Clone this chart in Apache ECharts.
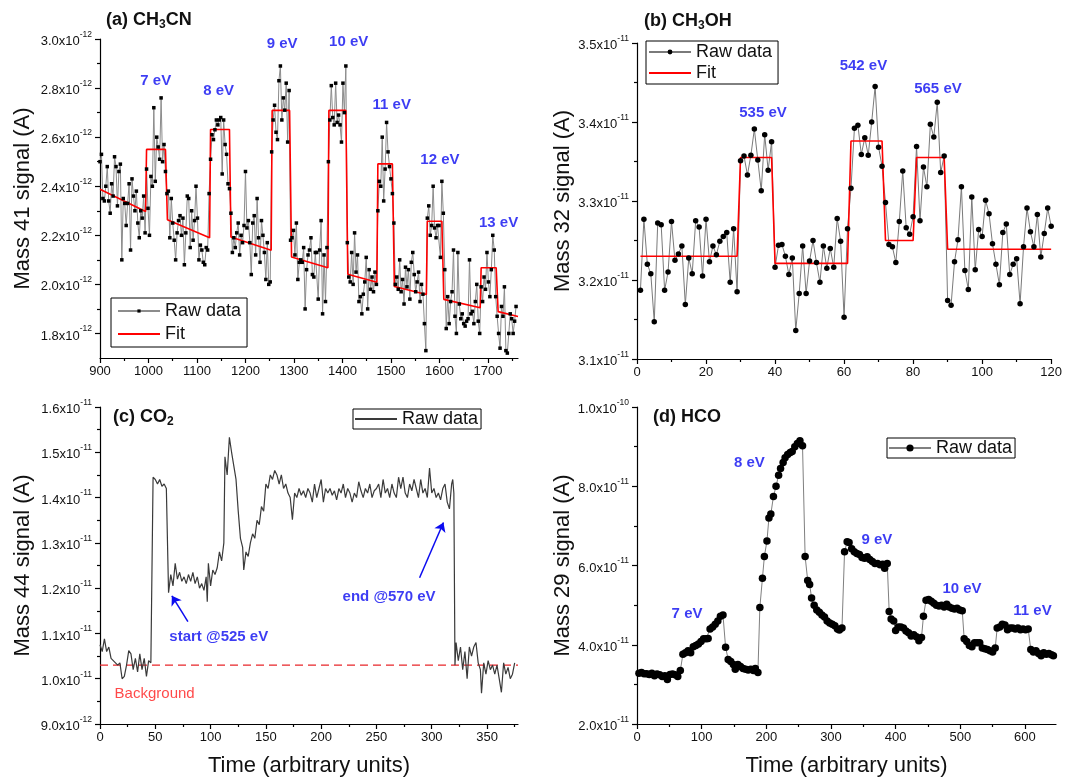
<!DOCTYPE html>
<html>
<head>
<meta charset="utf-8">
<script src="https://cdn.jsdelivr.net/npm/echarts@6/dist/echarts.min.js"></script>
<style>
  html, body { margin: 0; padding: 0; background: #ffffff; }
  #chart { width: 1065px; height: 778px; }
</style>
</head>
<body>
<div id="chart"></div>
<script>
const FONT = "'Liberation Sans', Arial, Helvetica, sans-serif";
const BLUE = '#0b0bf0';
const INK = '#111111';

// ---------- (a) CH3CN, mass 41 (values in 1e-12 A) ----------
const timeA0 = 900, timeAStep = 3;
const rawA = [
  // baseline before 7 eV
  2.50, 2.53, 2.35, 2.34, 2.40, 2.48, 2.34, 2.29, 2.41, 2.36, 2.52, 2.48, 2.32, 2.46, 2.49, 2.10,
  2.35, 2.33, 2.24, 2.33, 2.41, 2.14, 2.43, 2.36, 2.30, 2.38, 2.25, 2.19, 2.30, 2.27, 2.36, 2.21,
  // 7 eV
  2.47, 2.31, 2.20, 2.44, 2.40, 2.72, 2.42, 2.60, 2.56, 2.51, 2.76, 2.50, 2.57, 2.46,
  2.37, 2.38, 2.19, 2.35, 2.25, 2.18, 2.10, 2.21, 2.26, 2.28, 2.20, 2.27, 2.08, 2.21, 2.36,
  2.35, 2.15, 2.30, 2.18, 2.26, 2.40, 2.27, 2.10, 2.16, 2.14, 2.09, 2.08, 2.15, 2.14, 2.37,
  // 8 eV
  2.51, 2.61, 2.59, 2.63, 2.67, 2.65, 2.67, 2.68, 2.45, 2.67, 2.57, 2.53, 2.41, 2.39,
  2.29, 2.13, 2.19, 2.15, 2.21, 2.25, 2.12, 2.20, 2.17, 2.24, 2.46, 2.23, 2.26, 2.17,
  2.04, 2.25, 2.28, 2.12, 2.35, 2.19, 2.09, 2.26, 2.20, 2.13, 2.02, 2.17, 2.00, 2.01,
  // 9 eV
  2.54, 2.67, 2.73, 2.62, 2.59, 2.83, 2.89, 2.67, 2.76, 2.71, 2.82, 2.58, 2.79,
  2.18, 2.19, 2.22, 2.12, 2.25, 2.02, 2.09, 2.10, 2.09, 2.15, 1.90, 2.06, 2.12,
  2.14, 2.19, 2.04, 2.03, 2.13, 2.13, 1.94, 2.14, 2.26, 1.88, 2.12, 1.93, 2.15,
  // 10 eV
  2.50, 2.67, 2.81, 2.68, 2.65, 2.82, 2.66, 2.69, 2.65, 2.58, 2.82, 2.70, 2.89,
  2.17, 2.03, 2.01, 2.13, 2.00, 2.21, 2.05, 2.12, 1.93, 1.95, 1.88, 1.96, 2.01, 2.11,
  1.90, 2.06, 1.98, 2.03, 1.97, 2.05, 2.00,
  // 11 eV
  2.30, 2.42, 2.40, 2.60, 2.34, 2.47, 2.66, 2.54, 2.48, 2.43, 2.37,
  2.25, 2.00, 2.03, 1.98, 2.10, 1.97, 2.02, 1.92, 2.07, 1.99, 2.06, 1.94,
  2.09, 2.13, 2.04, 1.97, 2.01, 2.05, 1.93, 2.00, 1.96, 1.84, 1.73,
  // 12 eV
  2.27, 2.32, 2.20, 2.24, 2.40, 2.23, 2.19, 2.24, 2.24, 2.11, 2.42,
  2.29, 2.06, 1.82, 1.95, 1.84, 1.93, 1.97, 2.14, 1.87, 1.80, 2.13, 1.92, 1.86,
  1.88, 1.84, 1.83, 1.85, 1.86, 2.10, 1.88, 1.89, 1.84, 1.93, 2.00, 1.85, 1.80,
  // 13 eV
  1.99, 1.93, 2.03, 1.98, 2.13, 2.01, 1.95, 2.06, 2.20, 2.14, 1.95,
  1.87, 1.80, 1.74, 1.91, 1.87, 1.99, 1.73, 1.72, 1.80, 1.88, 1.86, 1.80, 1.85, 1.91
];
const fitTimeA = [900, 994, 996, 1035, 1039, 1126, 1128, 1167, 1170, 1253, 1255, 1291, 1295, 1370, 1372,
                  1407, 1411, 1471, 1473, 1503, 1507, 1573, 1575, 1605, 1609, 1684, 1686, 1717, 1721, 1762];
const fitA = [2.388, 2.297, 2.55, 2.55, 2.263, 2.19, 2.631, 2.631, 2.193, 2.139, 2.709, 2.709, 2.112, 2.068, 2.709,
              2.709, 2.041, 2.009, 2.491, 2.491, 1.991, 1.959, 2.257, 2.257, 1.939, 1.905, 2.068, 2.068, 1.889, 1.869];
const energyLabelsA = [['7 eV', 1015, 2.831], ['8 eV', 1144.5, 2.788], ['9 eV', 1275.5, 2.98], ['10 eV', 1412.8, 2.99],
                       ['11 eV', 1501.7, 2.731], ['12 eV', 1601, 2.507], ['13 eV', 1722, 2.25]];
const xTicksA = [900, 1000, 1100, 1200, 1300, 1400, 1500, 1600, 1700];
const xMinorA = [950, 1050, 1150, 1250, 1350, 1450, 1550, 1650, 1750];
const yTicksA = [1.8, 2.0, 2.2, 2.4, 2.6, 2.8, 3.0];
const yMinorA = [1.9, 2.1, 2.3, 2.5, 2.7, 2.9];

// ---------- (b) CH3OH, mass 32 (values in 1e-11 A) ----------
const rawB = [
  3.187, 3.277, 3.220, 3.208, 3.147, 3.272, 3.270, 3.187, 3.210, 3.274,
  3.225, 3.233, 3.243, 3.169, 3.228, 3.208, 3.275, 3.267, 3.205, 3.277,
  3.223, 3.243, 3.232, 3.249, 3.255, 3.260, 3.197, 3.265, 3.185, 3.351,
  3.357, 3.333, 3.358, 3.391, 3.352, 3.313, 3.384, 3.339, 3.375, 3.216,
  3.244, 3.245, 3.230, 3.207, 3.228, 3.136, 3.183, 3.243, 3.183, 3.224,
  3.250, 3.222, 3.197, 3.243, 3.215, 3.240, 3.216, 3.278, 3.249, 3.153,
  3.265, 3.316, 3.392, 3.396, 3.359, 3.380, 3.358, 3.400, 3.445, 3.368,
  3.344, 3.298, 3.245, 3.242, 3.222, 3.274, 3.338, 3.266, 3.258, 3.280,
  3.369, 3.275, 3.343, 3.318, 3.397, 3.381, 3.425, 3.336, 3.357, 3.174,
  3.168, 3.223, 3.251, 3.318, 3.212, 3.188, 3.305, 3.213, 3.264, 3.255,
  3.301, 3.284, 3.246, 3.220, 3.194, 3.260, 3.271, 3.207, 3.220, 3.227,
  3.170, 3.242, 3.291, 3.261, 3.242, 3.283, 3.229, 3.259, 3.291, 3.268
];
const fitTimeB = [1, 29, 30, 39, 40, 61, 62, 71, 72, 80, 81, 89, 90, 120];
const fitB = [3.23, 3.23, 3.355, 3.355, 3.221, 3.221, 3.376, 3.376, 3.25, 3.25, 3.355, 3.355, 3.239, 3.239];
const energyLabelsB = [['535 eV', 36.5, 3.411], ['542 eV', 65.6, 3.471], ['565 eV', 87.2, 3.442]];
const xTicksB = [0, 20, 40, 60, 80, 100, 120];
const xMinorB = [10, 30, 50, 70, 90, 110];
const yTicksB = [3.1, 3.2, 3.3, 3.4, 3.5];
const yMinorB = [3.15, 3.25, 3.35, 3.45];

// ---------- (c) CO2, mass 44 (values in 1e-11 A) ----------
const rawC = [
  [0,1.075],[2,1.06],[4,1.088],[6,1.06],[8,1.07],[10,1.045],[12,1.04],[14,1.035],[16,1.03],[18,1.035],
  [20,1.0],[22,1.005],[24,1.03],[26,1.062],[28,1.055],[30,1.02],[32,1.045],[34,1.015],[36,1.055],[38,1.02],
  [40,1.045],[42,1.005],[44,1.04],[46,1.035],
  [48,1.445],[50,1.44],[52,1.43],[54,1.44],[56,1.425],[58,1.43],[60,1.42],
  [62,1.19],[64,1.23],[66,1.205],[68,1.255],[70,1.22],[72,1.235],[74,1.215],[76,1.225],[78,1.21],[80,1.23],
  [82,1.215],[84,1.235],[86,1.21],[88,1.225],[90,1.2],[92,1.21],[94,1.195],[96,1.225],[97,1.17],[98,1.255],
  [100,1.205],[102,1.24],[104,1.23],[106,1.245],[108,1.28],[110,1.26],[112,1.3],
  [113,1.49],[115,1.45],[117,1.533],[119,1.5],[121,1.47],[123,1.44],[125,1.37],[127,1.31],[129,1.29],[130,1.24],
  [132,1.28],[134,1.27],[136,1.3],[138,1.32],[140,1.31],[142,1.35],[144,1.34],[146,1.38],[148,1.37],[150,1.43],
  [152,1.42],[154,1.45],[156,1.44],[158,1.46],[160,1.45],[162,1.43],[164,1.45],[166,1.42],[168,1.43],[170,1.41],
  [172,1.4],[174,1.351],[176,1.41],[178,1.4],[180,1.42],[182,1.405],[184,1.415],[186,1.4],[188,1.42],[190,1.41],
  [192,1.39],[194,1.43],[196,1.4],[198,1.42],[200,1.44],[202,1.39],[204,1.42],[206,1.41],[208,1.42],[210,1.405],
  [212,1.415],[214,1.395],[216,1.42],[218,1.41],[220,1.43],[222,1.4],[224,1.42],[226,1.41],[228,1.39],[230,1.41],
  [232,1.4],[234,1.435],[236,1.415],[238,1.4],[240,1.42],[242,1.41],[244,1.43],[246,1.4],[248,1.415],[250,1.42],
  [252,1.43],[254,1.4],[256,1.44],[258,1.41],[260,1.42],[262,1.4],[264,1.43],[266,1.41],[268,1.4],[270,1.445],
  [272,1.42],[274,1.445],[276,1.41],[278,1.4],[280,1.43],[282,1.415],[284,1.44],[286,1.42],[288,1.4],[290,1.44],
  [292,1.41],[294,1.42],[296,1.4],[298,1.465],[300,1.41],[302,1.42],[304,1.4],[306,1.41],[308,1.395],[310,1.42],
  [312,1.43],[314,1.39],[316,1.375],[318,1.43],[319,1.44],[320,1.41],
  [321,1.03],[322,1.08],[324,1.04],[326,1.07],[328,1.02],[330,1.06],[332,1.0],[334,1.07],[336,1.05],[338,1.07],
  [340,1.08],[342,1.035],[344,1.02],[345,0.968],[347,1.035],[349,1.01],[351,1.04],[353,1.02],[355,1.03],[357,1.01],
  [359,1.03],[361,1.0],[363,0.97],[365,1.035],[367,1.01],[369,1.025],[371,1.0],[373,1.01],[375,1.035]
];
const backgroundC = [[0, 1.03], [378, 1.03]];
const notesC = [['start @525 eV', 107.4, 1.092], ['end @570 eV', 261.4, 1.181]];
const arrowsC = [[[79.5, 1.126], [65, 1.183]], [[289, 1.223], [310.6, 1.345]]];
const backgroundLabelC = ['Background', 49.4, 0.966];
const xTicksC = [0, 50, 100, 150, 200, 250, 300, 350];
const xMinorC = [25, 75, 125, 175, 225, 275, 325, 375];
const yTicksC = [0.9, 1.0, 1.1, 1.2, 1.3, 1.4, 1.5, 1.6];
const yMinorC = [0.95, 1.05, 1.15, 1.25, 1.35, 1.45, 1.55];

// ---------- (d) HCO, mass 29 (values in 1e-11 A) ----------
const rawD = [
  [3,3.28],[7,3.30],[11,3.27],[15,3.27],[19,3.25],[23,3.28],[27,3.22],[31,3.26],[35,3.24],[39,3.20],
  [43,3.22],[47,3.12],[51,3.25],[55,3.26],[59,3.24],[63,3.20],[67,3.35],
  [71,3.76],[75,3.80],[79,3.85],[83,3.80],[87,3.95],[91,3.98],[95,4.02],[99,4.08],[103,4.15],[107,4.15],
  [110,4.16],[113,4.40],[117,4.45],[121,4.52],[125,4.60],[129,4.72],[133,4.75],
  [137,3.94],[141,3.63],[145,3.58],[149,3.50],[152,3.38],[156,3.50],[160,3.45],[164,3.40],[168,3.38],[172,3.36],
  [176,3.38],[180,3.35],[183,3.40],[187,3.30],
  [190,4.94],[194,5.68],[197,6.23],[201,6.62],[204,7.20],[207,7.30],[211,7.74],[215,8.00],[219,8.28],[222,8.45],
  [226,8.60],[229,8.72],[233,8.80],[237,8.85],[240,8.88],[244,9.00],[248,9.08],[252,9.15],[256,9.02],
  [260,6.23],[264,5.62],[267,5.52],[270,5.18],[274,5.00],[278,4.88],[282,4.82],[286,4.75],[290,4.70],[294,4.60],
  [298,4.55],[302,4.52],[306,4.48],[310,4.40],[313,4.37],[317,4.42],
  [321,6.35],[325,6.60],[328,6.58],[332,6.42],[336,6.35],[340,6.30],[344,6.28],[348,6.20],[352,6.18],[356,6.22],
  [360,6.15],[364,6.10],[368,6.05],[372,6.05],[376,6.02],[380,6.03],[383,5.93],[387,6.05],
  [390,4.84],[393,4.65],[397,4.60],[400,4.36],[404,4.45],[408,4.45],[412,4.42],[416,4.35],[420,4.30],[424,4.22],
  [428,4.25],[432,4.20],[436,4.10],[440,4.18],
  [443,4.72],[447,5.12],[451,5.14],[455,5.10],[459,5.05],[463,5.00],[467,4.98],[471,5.00],[475,4.95],[479,5.02],
  [483,4.95],[487,4.92],[491,4.90],[495,4.92],[499,4.88],[503,4.86],
  [506,4.15],[510,4.08],[514,3.98],[518,3.95],[522,4.05],[526,4.05],[530,4.05],[534,3.92],[538,3.90],[542,3.88],
  [546,3.85],[550,3.82],[554,3.92],
  [557,4.42],[561,4.45],[565,4.52],[569,4.50],[573,4.38],[577,4.42],[581,4.42],[585,4.40],[589,4.42],[593,4.38],
  [597,4.40],[601,4.38],[605,4.40],
  [609,3.88],[613,3.82],[617,3.85],[621,3.78],[625,3.72],[629,3.80],[633,3.76],[637,3.78],[641,3.75],[644,3.72]
];
const energyLabelsD = [['7 eV', 77.4, 4.775], ['8 eV', 173.7, 8.59], ['9 eV', 371, 6.65], ['10 eV', 502.6, 5.42], ['11 eV', 611.6, 4.86]];
const xTicksD = [0, 100, 200, 300, 400, 500, 600];
const xMinorD = [50, 150, 250, 350, 450, 550];
const yTicksD = [2, 4, 6, 8, 10];
const yMinorD = [3, 5, 7, 9];

const LEGEND_TEXT = { rawA: 'Raw data', fitA: 'Fit', rawB: 'Raw data', fitB: 'Fit', rawC: 'Raw data', rawD: 'Raw data' };

// ---------- helpers ----------
// "3.0x10^-12" style label for a value stored in units of 10^baseExp
function sciFormatter(baseExp) {
  return function (v) {
    let e = Math.floor(Math.log10(v) + 1e-9);
    let m = Math.round(v / Math.pow(10, e) * 10) / 10;
    if (m >= 10) { m = m / 10; e += 1; }
    return '{m|' + m.toFixed(1) + 'x10}{e|' + (e + baseExp) + '}';
  };
}
const SCI_RICH = {
  m: { fontFamily: FONT, fontSize: 13, color: INK, lineHeight: 18, verticalAlign: 'bottom' },
  e: { fontFamily: FONT, fontSize: 8.5, color: INK, lineHeight: 10, verticalAlign: 'top' }
};
const plainNumber = function (v) { return String(v); };

function axisPair(dim, grid, min, max, majors, minors, opts) {
  const base = {
    type: 'value', gridIndex: grid, min: min, max: max,
    position: dim === 'x' ? 'bottom' : 'left',
    splitLine: { show: false }
  };
  const major = Object.assign({}, base, {
    axisLine: { show: true, onZero: false, lineStyle: { color: '#000', width: 1.2 } },
    axisTick: { show: true, customValues: majors, length: 5, lineStyle: { color: '#000', width: 1.2 } },
    axisLabel: Object.assign({
      customValues: majors, fontFamily: FONT, fontSize: 13, color: INK,
      margin: dim === 'x' ? 7 : 8, formatter: plainNumber
    }, opts.label || {})
  });
  if (opts.name) {
    Object.assign(major, {
      name: opts.name, nameLocation: 'middle', nameGap: opts.nameGap,
      nameTextStyle: { fontFamily: FONT, fontSize: 22, color: INK }
    });
  }
  const minor = Object.assign({}, base, {
    axisLine: { show: false, onZero: false },
    axisTick: { show: true, customValues: minors, length: 3, lineStyle: { color: '#000', width: 1.2 } },
    axisLabel: { show: false }
  });
  return [major, minor];
}

function textSeries(grid, items, style) {
  return {
    type: 'scatter', xAxisIndex: grid * 2, yAxisIndex: grid * 2, silent: true, z: 10,
    symbolSize: 1, itemStyle: { color: 'rgba(0,0,0,0)' }, clip: false,
    data: items.map(function (it) { return { name: it[0], value: [it[1], it[2]] }; }),
    label: Object.assign({ show: true, position: 'inside', formatter: '{b}', fontFamily: FONT }, style)
  };
}
const ENERGY_STYLE = { color: BLUE, fontWeight: 'bold', fontSize: 15 };

// legend entries: a series drawn without markers gets a line-only key
function legendItem(name, withMarker) {
  return withMarker ? { name: name } : { name: name, itemStyle: { opacity: 0 } };
}
function legendBox(items, left, top, itemHeight, padding, itemGap) {
  return {
    data: items, orient: 'vertical', left: left, top: top, selectedMode: false,
    itemWidth: 42, itemHeight: itemHeight, itemGap: itemGap, padding: padding,
    borderColor: '#000', borderWidth: 1, backgroundColor: '#fff',
    textStyle: { fontFamily: FONT, fontSize: 18, color: INK },
    formatter: function (n) { return LEGEND_TEXT[n]; }
  };
}

const TITLE_RICH = {
  b: { fontFamily: FONT, fontWeight: 'bold', fontSize: 18, color: INK, lineHeight: 22 },
  s: { fontFamily: FONT, fontWeight: 'bold', fontSize: 12, color: INK, lineHeight: 12, verticalAlign: 'bottom' }
};

// ---------- assemble ----------
const xAxes = [].concat(
  axisPair('x', 0, 900, 1762, xTicksA, xMinorA, {}),
  axisPair('x', 1, 0, 120, xTicksB, xMinorB, {}),
  axisPair('x', 2, 0, 378, xTicksC, xMinorC, { name: 'Time (arbitrary units)', nameGap: 31 }),
  axisPair('x', 3, 0, 648, xTicksD, xMinorD, { name: 'Time (arbitrary units)', nameGap: 31 })
);
const yAxes = [].concat(
  axisPair('y', 0, 1.7, 3.0, yTicksA, yMinorA, { name: 'Mass 41 signal (A)', nameGap: 66, label: { formatter: sciFormatter(-12), rich: SCI_RICH } }),
  axisPair('y', 1, 3.1, 3.5, yTicksB, yMinorB, { name: 'Mass 32 signal (A)', nameGap: 63, label: { formatter: sciFormatter(-11), rich: SCI_RICH } }),
  axisPair('y', 2, 0.9, 1.6, yTicksC, yMinorC, { name: 'Mass 44 signal (A)', nameGap: 66, label: { formatter: sciFormatter(-11), rich: SCI_RICH } }),
  axisPair('y', 3, 2, 10, yTicksD, yMinorD, { name: 'Mass 29 signal (A)', nameGap: 63, label: { formatter: sciFormatter(-11), rich: SCI_RICH } })
);

const series = [
  {
    name: 'rawA', type: 'line', xAxisIndex: 0, yAxisIndex: 0,
    data: rawA.map(function (v, i) { return [timeA0 + i * timeAStep, v]; }),
    symbol: 'rect', symbolSize: 3.5, showAllSymbol: true,
    itemStyle: { color: '#000' }, lineStyle: { color: '#8c8c8c', width: 1 }
  },
  {
    name: 'fitA', type: 'line', xAxisIndex: 0, yAxisIndex: 0,
    data: fitTimeA.map(function (t, i) { return [t, fitA[i]]; }),
    symbol: 'none', itemStyle: { color: '#ff0000' }, lineStyle: { color: '#ff0000', width: 1.6 }
  },
  textSeries(0, energyLabelsA, ENERGY_STYLE),

  {
    name: 'rawB', type: 'line', xAxisIndex: 2, yAxisIndex: 2,
    data: rawB.map(function (v, i) { return [i + 1, v]; }),
    symbol: 'circle', symbolSize: 5.5, showAllSymbol: true,
    itemStyle: { color: '#000' }, lineStyle: { color: '#7a7a7a', width: 1 }
  },
  {
    name: 'fitB', type: 'line', xAxisIndex: 2, yAxisIndex: 2,
    data: fitTimeB.map(function (t, i) { return [t, fitB[i]]; }),
    symbol: 'none', itemStyle: { color: '#ff0000' }, lineStyle: { color: '#ff0000', width: 1.6 }
  },
  textSeries(1, energyLabelsB, ENERGY_STYLE),

  {
    name: 'backgroundC', type: 'line', xAxisIndex: 4, yAxisIndex: 4, data: backgroundC,
    symbol: 'none', silent: true, lineStyle: { color: '#e8262a', width: 1.4, type: [8, 5] }
  },
  {
    name: 'rawC', type: 'line', xAxisIndex: 4, yAxisIndex: 4, data: rawC,
    symbol: 'none', itemStyle: { color: '#3a3a3a' }, lineStyle: { color: '#3a3a3a', width: 1.2 },
    markLine: {
      silent: true, symbol: ['none', 'arrow'], symbolSize: 9, label: { show: false },
      lineStyle: { color: BLUE, width: 1.5, type: 'solid' },
      data: arrowsC.map(function (a) { return [{ coord: a[0] }, { coord: a[1] }]; })
    }
  },
  textSeries(2, notesC, ENERGY_STYLE),
  textSeries(2, [backgroundLabelC], { color: '#ff1a1a', fontSize: 15 }),

  {
    name: 'rawD', type: 'line', xAxisIndex: 6, yAxisIndex: 6, data: rawD,
    symbol: 'circle', symbolSize: 7.5, showAllSymbol: true,
    itemStyle: { color: '#000' }, lineStyle: { color: '#808080', width: 1 }
  },
  textSeries(3, energyLabelsD, ENERGY_STYLE)
];

const option = {
  animation: false,
  backgroundColor: '#ffffff',
  title: [
    { text: '{b|(a) CH}{s|3}{b|CN}', left: 106, top: 9, padding: 0, textStyle: { rich: TITLE_RICH } },
    { text: '{b|(b) CH}{s|3}{b|OH}', left: 644, top: 10, padding: 0, textStyle: { rich: TITLE_RICH } },
    { text: '{b|(c) CO}{s|2}', left: 113, top: 406, padding: 0, textStyle: { rich: TITLE_RICH } },
    { text: '{b|(d) HCO}', left: 653, top: 406, padding: 0, textStyle: { rich: TITLE_RICH } }
  ],
  legend: [
    legendBox([legendItem('rawA', true), legendItem('fitA', false)], 111, 298, 4, [4, 6, 4, 6], 5),
    legendBox([legendItem('rawB', true), legendItem('fitB', false)], 646, 41, 6, [2, 6, 2, 2], 3),
    legendBox([legendItem('rawC', false)], 353, 409, 4, [1, 3, 1, 1], 2),
    legendBox([legendItem('rawD', true)], 887, 438, 9, [1, 3, 1, 1], 2)
  ],
  grid: [
    { left: 100, top: 39, width: 418, height: 319 },
    { left: 637, top: 43, width: 419, height: 316 },
    { left: 100, top: 407, width: 418, height: 317 },
    { left: 637, top: 407, width: 419, height: 318 }
  ],
  xAxis: xAxes,
  yAxis: yAxes,
  series: series
};

const chart = echarts.init(document.getElementById('chart'), null, { renderer: 'canvas' });
chart.setOption(option);
</script>
</body>
</html>
